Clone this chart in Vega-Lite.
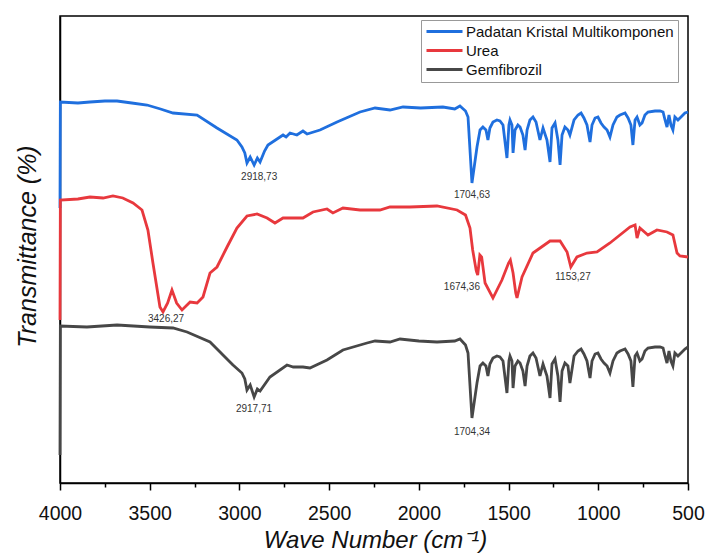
{
  "$schema": "https://vega.github.io/schema/vega-lite/v6.json",
  "width": 628,
  "height": 467,
  "autosize": {"type": "none"},
  "padding": {"left": 60, "top": 16, "right": 19, "bottom": 71},
  "background": "white",
  "config": {
    "view": {"stroke": "#000", "strokeWidth": 1.5},
    "font": "Liberation Sans"
  },
  "datasets": {
    "spectra": [
      {"s": "Padatan Kristal Multikomponen", "w": 4000, "t": 275},
      {"s": "Padatan Kristal Multikomponen", "w": 3998, "t": 381},
      {"s": "Padatan Kristal Multikomponen", "w": 3900, "t": 380},
      {"s": "Padatan Kristal Multikomponen", "w": 3833, "t": 381},
      {"s": "Padatan Kristal Multikomponen", "w": 3750, "t": 382},
      {"s": "Padatan Kristal Multikomponen", "w": 3682, "t": 382},
      {"s": "Padatan Kristal Multikomponen", "w": 3600, "t": 380},
      {"s": "Padatan Kristal Multikomponen", "w": 3515, "t": 378},
      {"s": "Padatan Kristal Multikomponen", "w": 3440, "t": 374},
      {"s": "Padatan Kristal Multikomponen", "w": 3370, "t": 370},
      {"s": "Padatan Kristal Multikomponen", "w": 3236, "t": 368},
      {"s": "Padatan Kristal Multikomponen", "w": 3125, "t": 355},
      {"s": "Padatan Kristal Multikomponen", "w": 3014, "t": 343},
      {"s": "Padatan Kristal Multikomponen", "w": 2986, "t": 336},
      {"s": "Padatan Kristal Multikomponen", "w": 2970, "t": 330},
      {"s": "Padatan Kristal Multikomponen", "w": 2958, "t": 320},
      {"s": "Padatan Kristal Multikomponen", "w": 2940, "t": 326},
      {"s": "Padatan Kristal Multikomponen", "w": 2918, "t": 318},
      {"s": "Padatan Kristal Multikomponen", "w": 2900, "t": 325},
      {"s": "Padatan Kristal Multikomponen", "w": 2885, "t": 321},
      {"s": "Padatan Kristal Multikomponen", "w": 2860, "t": 332},
      {"s": "Padatan Kristal Multikomponen", "w": 2841, "t": 338},
      {"s": "Padatan Kristal Multikomponen", "w": 2757, "t": 348},
      {"s": "Padatan Kristal Multikomponen", "w": 2740, "t": 346},
      {"s": "Padatan Kristal Multikomponen", "w": 2718, "t": 350},
      {"s": "Padatan Kristal Multikomponen", "w": 2680, "t": 348},
      {"s": "Padatan Kristal Multikomponen", "w": 2646, "t": 352},
      {"s": "Padatan Kristal Multikomponen", "w": 2623, "t": 349},
      {"s": "Padatan Kristal Multikomponen", "w": 2551, "t": 353},
      {"s": "Padatan Kristal Multikomponen", "w": 2456, "t": 361},
      {"s": "Padatan Kristal Multikomponen", "w": 2328, "t": 371},
      {"s": "Padatan Kristal Multikomponen", "w": 2244, "t": 375},
      {"s": "Padatan Kristal Multikomponen", "w": 2161, "t": 373},
      {"s": "Padatan Kristal Multikomponen", "w": 2088, "t": 376},
      {"s": "Padatan Kristal Multikomponen", "w": 1990, "t": 375},
      {"s": "Padatan Kristal Multikomponen", "w": 1866, "t": 376},
      {"s": "Padatan Kristal Multikomponen", "w": 1800, "t": 374},
      {"s": "Padatan Kristal Multikomponen", "w": 1771, "t": 377},
      {"s": "Padatan Kristal Multikomponen", "w": 1740, "t": 372},
      {"s": "Padatan Kristal Multikomponen", "w": 1726, "t": 366},
      {"s": "Padatan Kristal Multikomponen", "w": 1704, "t": 300},
      {"s": "Padatan Kristal Multikomponen", "w": 1676, "t": 336},
      {"s": "Padatan Kristal Multikomponen", "w": 1659, "t": 353},
      {"s": "Padatan Kristal Multikomponen", "w": 1643, "t": 356},
      {"s": "Padatan Kristal Multikomponen", "w": 1626, "t": 353},
      {"s": "Padatan Kristal Multikomponen", "w": 1615, "t": 343},
      {"s": "Padatan Kristal Multikomponen", "w": 1604, "t": 355},
      {"s": "Padatan Kristal Multikomponen", "w": 1587, "t": 361},
      {"s": "Padatan Kristal Multikomponen", "w": 1565, "t": 363},
      {"s": "Padatan Kristal Multikomponen", "w": 1548, "t": 362},
      {"s": "Padatan Kristal Multikomponen", "w": 1531, "t": 358},
      {"s": "Padatan Kristal Multikomponen", "w": 1509, "t": 325},
      {"s": "Padatan Kristal Multikomponen", "w": 1498, "t": 358},
      {"s": "Padatan Kristal Multikomponen", "w": 1492, "t": 363},
      {"s": "Padatan Kristal Multikomponen", "w": 1481, "t": 358},
      {"s": "Padatan Kristal Multikomponen", "w": 1475, "t": 330},
      {"s": "Padatan Kristal Multikomponen", "w": 1464, "t": 353},
      {"s": "Padatan Kristal Multikomponen", "w": 1448, "t": 358},
      {"s": "Padatan Kristal Multikomponen", "w": 1436, "t": 356},
      {"s": "Padatan Kristal Multikomponen", "w": 1420, "t": 348},
      {"s": "Padatan Kristal Multikomponen", "w": 1408, "t": 333},
      {"s": "Padatan Kristal Multikomponen", "w": 1397, "t": 353},
      {"s": "Padatan Kristal Multikomponen", "w": 1381, "t": 363},
      {"s": "Padatan Kristal Multikomponen", "w": 1364, "t": 366},
      {"s": "Padatan Kristal Multikomponen", "w": 1347, "t": 361},
      {"s": "Padatan Kristal Multikomponen", "w": 1325, "t": 343},
      {"s": "Padatan Kristal Multikomponen", "w": 1308, "t": 355},
      {"s": "Padatan Kristal Multikomponen", "w": 1286, "t": 343},
      {"s": "Padatan Kristal Multikomponen", "w": 1269, "t": 321},
      {"s": "Padatan Kristal Multikomponen", "w": 1258, "t": 355},
      {"s": "Padatan Kristal Multikomponen", "w": 1241, "t": 360},
      {"s": "Padatan Kristal Multikomponen", "w": 1225, "t": 343},
      {"s": "Padatan Kristal Multikomponen", "w": 1213, "t": 318},
      {"s": "Padatan Kristal Multikomponen", "w": 1202, "t": 348},
      {"s": "Padatan Kristal Multikomponen", "w": 1186, "t": 356},
      {"s": "Padatan Kristal Multikomponen", "w": 1169, "t": 353},
      {"s": "Padatan Kristal Multikomponen", "w": 1158, "t": 348},
      {"s": "Padatan Kristal Multikomponen", "w": 1135, "t": 363},
      {"s": "Padatan Kristal Multikomponen", "w": 1113, "t": 368},
      {"s": "Padatan Kristal Multikomponen", "w": 1096, "t": 370},
      {"s": "Padatan Kristal Multikomponen", "w": 1080, "t": 365},
      {"s": "Padatan Kristal Multikomponen", "w": 1063, "t": 358},
      {"s": "Padatan Kristal Multikomponen", "w": 1046, "t": 341},
      {"s": "Padatan Kristal Multikomponen", "w": 1035, "t": 358},
      {"s": "Padatan Kristal Multikomponen", "w": 1018, "t": 365},
      {"s": "Padatan Kristal Multikomponen", "w": 1002, "t": 366},
      {"s": "Padatan Kristal Multikomponen", "w": 985, "t": 360},
      {"s": "Padatan Kristal Multikomponen", "w": 968, "t": 356},
      {"s": "Padatan Kristal Multikomponen", "w": 951, "t": 353},
      {"s": "Padatan Kristal Multikomponen", "w": 935, "t": 346},
      {"s": "Padatan Kristal Multikomponen", "w": 918, "t": 358},
      {"s": "Padatan Kristal Multikomponen", "w": 896, "t": 366},
      {"s": "Padatan Kristal Multikomponen", "w": 879, "t": 368},
      {"s": "Padatan Kristal Multikomponen", "w": 851, "t": 370},
      {"s": "Padatan Kristal Multikomponen", "w": 834, "t": 365},
      {"s": "Padatan Kristal Multikomponen", "w": 818, "t": 358},
      {"s": "Padatan Kristal Multikomponen", "w": 807, "t": 338},
      {"s": "Padatan Kristal Multikomponen", "w": 795, "t": 363},
      {"s": "Padatan Kristal Multikomponen", "w": 784, "t": 366},
      {"s": "Padatan Kristal Multikomponen", "w": 768, "t": 358},
      {"s": "Padatan Kristal Multikomponen", "w": 756, "t": 360},
      {"s": "Padatan Kristal Multikomponen", "w": 740, "t": 368},
      {"s": "Padatan Kristal Multikomponen", "w": 723, "t": 371},
      {"s": "Padatan Kristal Multikomponen", "w": 684, "t": 372},
      {"s": "Padatan Kristal Multikomponen", "w": 656, "t": 372},
      {"s": "Padatan Kristal Multikomponen", "w": 639, "t": 371},
      {"s": "Padatan Kristal Multikomponen", "w": 628, "t": 363},
      {"s": "Padatan Kristal Multikomponen", "w": 617, "t": 356},
      {"s": "Padatan Kristal Multikomponen", "w": 606, "t": 368},
      {"s": "Padatan Kristal Multikomponen", "w": 595, "t": 358},
      {"s": "Padatan Kristal Multikomponen", "w": 584, "t": 353},
      {"s": "Padatan Kristal Multikomponen", "w": 573, "t": 366},
      {"s": "Padatan Kristal Multikomponen", "w": 556, "t": 363},
      {"s": "Padatan Kristal Multikomponen", "w": 539, "t": 366},
      {"s": "Padatan Kristal Multikomponen", "w": 517, "t": 370},
      {"s": "Padatan Kristal Multikomponen", "w": 500, "t": 371},

      {"s": "Urea", "w": 4000, "t": 163},
      {"s": "Urea", "w": 3998, "t": 283},
      {"s": "Urea", "w": 3900, "t": 284},
      {"s": "Urea", "w": 3833, "t": 286},
      {"s": "Urea", "w": 3760, "t": 285},
      {"s": "Urea", "w": 3705, "t": 287},
      {"s": "Urea", "w": 3650, "t": 285},
      {"s": "Urea", "w": 3593, "t": 280},
      {"s": "Urea", "w": 3543, "t": 273},
      {"s": "Urea", "w": 3510, "t": 253},
      {"s": "Urea", "w": 3482, "t": 220},
      {"s": "Urea", "w": 3443, "t": 176},
      {"s": "Urea", "w": 3426, "t": 171},
      {"s": "Urea", "w": 3400, "t": 180},
      {"s": "Urea", "w": 3376, "t": 193},
      {"s": "Urea", "w": 3350, "t": 180},
      {"s": "Urea", "w": 3320, "t": 173},
      {"s": "Urea", "w": 3275, "t": 181},
      {"s": "Urea", "w": 3236, "t": 180},
      {"s": "Urea", "w": 3203, "t": 186},
      {"s": "Urea", "w": 3164, "t": 210},
      {"s": "Urea", "w": 3125, "t": 216},
      {"s": "Urea", "w": 3069, "t": 236},
      {"s": "Urea", "w": 3014, "t": 255},
      {"s": "Urea", "w": 2958, "t": 267},
      {"s": "Urea", "w": 2902, "t": 269},
      {"s": "Urea", "w": 2846, "t": 265},
      {"s": "Urea", "w": 2802, "t": 260},
      {"s": "Urea", "w": 2757, "t": 265},
      {"s": "Urea", "w": 2646, "t": 265},
      {"s": "Urea", "w": 2590, "t": 271},
      {"s": "Urea", "w": 2512, "t": 274},
      {"s": "Urea", "w": 2479, "t": 270},
      {"s": "Urea", "w": 2423, "t": 275},
      {"s": "Urea", "w": 2328, "t": 273},
      {"s": "Urea", "w": 2217, "t": 273},
      {"s": "Urea", "w": 2161, "t": 276},
      {"s": "Urea", "w": 2050, "t": 276},
      {"s": "Urea", "w": 1899, "t": 277},
      {"s": "Urea", "w": 1787, "t": 273},
      {"s": "Urea", "w": 1740, "t": 268},
      {"s": "Urea", "w": 1715, "t": 255},
      {"s": "Urea", "w": 1700, "t": 233},
      {"s": "Urea", "w": 1680, "t": 212},
      {"s": "Urea", "w": 1672, "t": 208},
      {"s": "Urea", "w": 1660, "t": 228},
      {"s": "Urea", "w": 1650, "t": 226},
      {"s": "Urea", "w": 1631, "t": 200},
      {"s": "Urea", "w": 1587, "t": 185},
      {"s": "Urea", "w": 1537, "t": 203},
      {"s": "Urea", "w": 1500, "t": 220},
      {"s": "Urea", "w": 1490, "t": 223},
      {"s": "Urea", "w": 1475, "t": 210},
      {"s": "Urea", "w": 1460, "t": 190},
      {"s": "Urea", "w": 1453, "t": 185},
      {"s": "Urea", "w": 1425, "t": 206},
      {"s": "Urea", "w": 1364, "t": 230},
      {"s": "Urea", "w": 1269, "t": 242},
      {"s": "Urea", "w": 1213, "t": 242},
      {"s": "Urea", "w": 1174, "t": 231},
      {"s": "Urea", "w": 1153, "t": 216},
      {"s": "Urea", "w": 1119, "t": 226},
      {"s": "Urea", "w": 1063, "t": 230},
      {"s": "Urea", "w": 1007, "t": 231},
      {"s": "Urea", "w": 935, "t": 240},
      {"s": "Urea", "w": 823, "t": 256},
      {"s": "Urea", "w": 795, "t": 258},
      {"s": "Urea", "w": 784, "t": 245},
      {"s": "Urea", "w": 768, "t": 255},
      {"s": "Urea", "w": 723, "t": 248},
      {"s": "Urea", "w": 673, "t": 253},
      {"s": "Urea", "w": 617, "t": 251},
      {"s": "Urea", "w": 584, "t": 248},
      {"s": "Urea", "w": 561, "t": 230},
      {"s": "Urea", "w": 545, "t": 227},
      {"s": "Urea", "w": 500, "t": 226},

      {"s": "Gemfibrozil", "w": 4000, "t": 28},
      {"s": "Gemfibrozil", "w": 3998, "t": 157},
      {"s": "Gemfibrozil", "w": 3850, "t": 156},
      {"s": "Gemfibrozil", "w": 3682, "t": 158},
      {"s": "Gemfibrozil", "w": 3500, "t": 156},
      {"s": "Gemfibrozil", "w": 3370, "t": 155},
      {"s": "Gemfibrozil", "w": 3292, "t": 151},
      {"s": "Gemfibrozil", "w": 3164, "t": 141},
      {"s": "Gemfibrozil", "w": 3036, "t": 118},
      {"s": "Gemfibrozil", "w": 2986, "t": 110},
      {"s": "Gemfibrozil", "w": 2970, "t": 104},
      {"s": "Gemfibrozil", "w": 2958, "t": 93},
      {"s": "Gemfibrozil", "w": 2940, "t": 98},
      {"s": "Gemfibrozil", "w": 2918, "t": 86},
      {"s": "Gemfibrozil", "w": 2900, "t": 94},
      {"s": "Gemfibrozil", "w": 2885, "t": 92},
      {"s": "Gemfibrozil", "w": 2830, "t": 106},
      {"s": "Gemfibrozil", "w": 2735, "t": 118},
      {"s": "Gemfibrozil", "w": 2700, "t": 116},
      {"s": "Gemfibrozil", "w": 2646, "t": 116},
      {"s": "Gemfibrozil", "w": 2607, "t": 115},
      {"s": "Gemfibrozil", "w": 2512, "t": 123},
      {"s": "Gemfibrozil", "w": 2423, "t": 133},
      {"s": "Gemfibrozil", "w": 2289, "t": 140},
      {"s": "Gemfibrozil", "w": 2244, "t": 142},
      {"s": "Gemfibrozil", "w": 2161, "t": 141},
      {"s": "Gemfibrozil", "w": 2105, "t": 144},
      {"s": "Gemfibrozil", "w": 2000, "t": 142},
      {"s": "Gemfibrozil", "w": 1899, "t": 141},
      {"s": "Gemfibrozil", "w": 1800, "t": 142},
      {"s": "Gemfibrozil", "w": 1771, "t": 144},
      {"s": "Gemfibrozil", "w": 1740, "t": 138},
      {"s": "Gemfibrozil", "w": 1726, "t": 130},
      {"s": "Gemfibrozil", "w": 1704, "t": 65},
      {"s": "Gemfibrozil", "w": 1676, "t": 100},
      {"s": "Gemfibrozil", "w": 1659, "t": 117},
      {"s": "Gemfibrozil", "w": 1643, "t": 120},
      {"s": "Gemfibrozil", "w": 1626, "t": 117},
      {"s": "Gemfibrozil", "w": 1615, "t": 107},
      {"s": "Gemfibrozil", "w": 1604, "t": 119},
      {"s": "Gemfibrozil", "w": 1587, "t": 125},
      {"s": "Gemfibrozil", "w": 1565, "t": 127},
      {"s": "Gemfibrozil", "w": 1548, "t": 126},
      {"s": "Gemfibrozil", "w": 1531, "t": 122},
      {"s": "Gemfibrozil", "w": 1509, "t": 90},
      {"s": "Gemfibrozil", "w": 1498, "t": 122},
      {"s": "Gemfibrozil", "w": 1492, "t": 127},
      {"s": "Gemfibrozil", "w": 1481, "t": 122},
      {"s": "Gemfibrozil", "w": 1475, "t": 95},
      {"s": "Gemfibrozil", "w": 1464, "t": 117},
      {"s": "Gemfibrozil", "w": 1448, "t": 122},
      {"s": "Gemfibrozil", "w": 1436, "t": 120},
      {"s": "Gemfibrozil", "w": 1420, "t": 112},
      {"s": "Gemfibrozil", "w": 1408, "t": 97},
      {"s": "Gemfibrozil", "w": 1397, "t": 117},
      {"s": "Gemfibrozil", "w": 1381, "t": 127},
      {"s": "Gemfibrozil", "w": 1364, "t": 130},
      {"s": "Gemfibrozil", "w": 1347, "t": 125},
      {"s": "Gemfibrozil", "w": 1325, "t": 107},
      {"s": "Gemfibrozil", "w": 1308, "t": 119},
      {"s": "Gemfibrozil", "w": 1286, "t": 107},
      {"s": "Gemfibrozil", "w": 1269, "t": 85},
      {"s": "Gemfibrozil", "w": 1258, "t": 119},
      {"s": "Gemfibrozil", "w": 1241, "t": 124},
      {"s": "Gemfibrozil", "w": 1225, "t": 107},
      {"s": "Gemfibrozil", "w": 1213, "t": 81},
      {"s": "Gemfibrozil", "w": 1202, "t": 112},
      {"s": "Gemfibrozil", "w": 1186, "t": 120},
      {"s": "Gemfibrozil", "w": 1169, "t": 117},
      {"s": "Gemfibrozil", "w": 1158, "t": 100},
      {"s": "Gemfibrozil", "w": 1135, "t": 127},
      {"s": "Gemfibrozil", "w": 1113, "t": 132},
      {"s": "Gemfibrozil", "w": 1096, "t": 134},
      {"s": "Gemfibrozil", "w": 1080, "t": 129},
      {"s": "Gemfibrozil", "w": 1063, "t": 122},
      {"s": "Gemfibrozil", "w": 1046, "t": 105},
      {"s": "Gemfibrozil", "w": 1035, "t": 122},
      {"s": "Gemfibrozil", "w": 1018, "t": 129},
      {"s": "Gemfibrozil", "w": 1002, "t": 130},
      {"s": "Gemfibrozil", "w": 985, "t": 124},
      {"s": "Gemfibrozil", "w": 968, "t": 120},
      {"s": "Gemfibrozil", "w": 951, "t": 117},
      {"s": "Gemfibrozil", "w": 935, "t": 110},
      {"s": "Gemfibrozil", "w": 918, "t": 122},
      {"s": "Gemfibrozil", "w": 896, "t": 130},
      {"s": "Gemfibrozil", "w": 879, "t": 132},
      {"s": "Gemfibrozil", "w": 851, "t": 134},
      {"s": "Gemfibrozil", "w": 834, "t": 129},
      {"s": "Gemfibrozil", "w": 818, "t": 122},
      {"s": "Gemfibrozil", "w": 807, "t": 96},
      {"s": "Gemfibrozil", "w": 795, "t": 127},
      {"s": "Gemfibrozil", "w": 784, "t": 130},
      {"s": "Gemfibrozil", "w": 768, "t": 122},
      {"s": "Gemfibrozil", "w": 756, "t": 124},
      {"s": "Gemfibrozil", "w": 740, "t": 132},
      {"s": "Gemfibrozil", "w": 723, "t": 135},
      {"s": "Gemfibrozil", "w": 684, "t": 136},
      {"s": "Gemfibrozil", "w": 656, "t": 136},
      {"s": "Gemfibrozil", "w": 639, "t": 135},
      {"s": "Gemfibrozil", "w": 628, "t": 127},
      {"s": "Gemfibrozil", "w": 617, "t": 120},
      {"s": "Gemfibrozil", "w": 606, "t": 132},
      {"s": "Gemfibrozil", "w": 595, "t": 122},
      {"s": "Gemfibrozil", "w": 584, "t": 117},
      {"s": "Gemfibrozil", "w": 573, "t": 130},
      {"s": "Gemfibrozil", "w": 556, "t": 127},
      {"s": "Gemfibrozil", "w": 539, "t": 130},
      {"s": "Gemfibrozil", "w": 517, "t": 134},
      {"s": "Gemfibrozil", "w": 500, "t": 136}
    ],
    "peaks": [
      {"w": 2890, "t": 306, "label": "2918,73"},
      {"w": 1704, "t": 288, "label": "1704,63"},
      {"w": 3409, "t": 164, "label": "3426,27"},
      {"w": 1760, "t": 196, "label": "1674,36"},
      {"w": 1141, "t": 206, "label": "1153,27"},
      {"w": 2919, "t": 74, "label": "2917,71"},
      {"w": 1704, "t": 51, "label": "1704,34"}
    ]
  },
  "layer": [
    {
      "data": {"name": "spectra"},
      "mark": {"type": "line", "strokeWidth": 2.8, "interpolate": "linear"},
      "encoding": {
        "x": {
          "field": "w",
          "type": "quantitative",
          "scale": {"domain": [500, 4000], "reverse": true, "nice": false, "zero": false},
          "axis": {
            "values": [500, 750, 1000, 1250, 1500, 1750, 2000, 2250, 2500, 2750, 3000, 3250, 3500, 3750, 4000],
            "format": "d",
            "labelExpr": "datum.value % 500 === 0 ? datum.label : ''",
            "tickSize": {"condition": {"test": "datum.value % 500 === 0", "value": 7}, "value": 4},
            "tickColor": "#000",
            "tickWidth": 1.5,
            "domainColor": "#000",
            "domainWidth": 1.5,
            "grid": false,
            "labelFontSize": 19.5,
            "labelColor": "#111",
            "labelFont": "Liberation Sans",
            "labelPadding": 14,
            "labelOverlap": false,
            "labelFlush": false,
            "title": "Wave Number (cm⁻¹)",
            "titleFont": "Liberation Sans",
            "titleFontSize": 24,
            "titleFontStyle": "italic",
            "titleFontWeight": "normal",
            "titleColor": "#111",
            "titleBaseline": "middle",
            "titleY": 57,
            "titleX": 315,
            "titleAnchor": "middle"
          }
        },
        "y": {
          "field": "t",
          "type": "quantitative",
          "scale": {"domain": [0, 467], "nice": false, "zero": false},
          "axis": {
            "labels": false,
            "ticks": false,
            "grid": false,
            "domainColor": "#000",
            "domainWidth": 1.5,
            "title": "Transmittance (%)",
            "titleFont": "Liberation Sans",
            "titleFontSize": 25,
            "titleFontStyle": "italic",
            "titleFontWeight": "normal",
            "titleColor": "#111",
            "titleAngle": -90,
            "titleBaseline": "middle",
            "titleAlign": "center",
            "titleX": -33,
            "titleY": 230
          }
        },
        "color": {
          "field": "s",
          "type": "nominal",
          "scale": {
            "domain": ["Padatan Kristal Multikomponen", "Urea", "Gemfibrozil"],
            "range": ["#1f6fde", "#e8383d", "#474747"]
          },
          "legend": {
            "orient": "none",
            "legendX": 361,
            "legendY": 4,
            "title": null,
            "symbolType": "M-1,0H5",
            "symbolSize": 144,
            "symbolStrokeWidth": 3,
            "symbolFillColor": "transparent",
            "labelFontSize": 15,
            "labelFont": "Liberation Sans",
            "labelColor": "#111",
            "labelOffset": 26,
            "rowPadding": 3,
            "padding": 4,
            "strokeColor": "#999",
            "fillColor": "white",
            "labelLimit": 400
          }
        }
      }
    },
    {
      "data": {"name": "peaks"},
      "mark": {"type": "text", "fontSize": 10, "font": "Liberation Sans", "color": "#333", "baseline": "middle", "align": "center"},
      "encoding": {
        "x": {"field": "w", "type": "quantitative"},
        "y": {"field": "t", "type": "quantitative"},
        "text": {"field": "label"}
      }
    }
  ]
}
